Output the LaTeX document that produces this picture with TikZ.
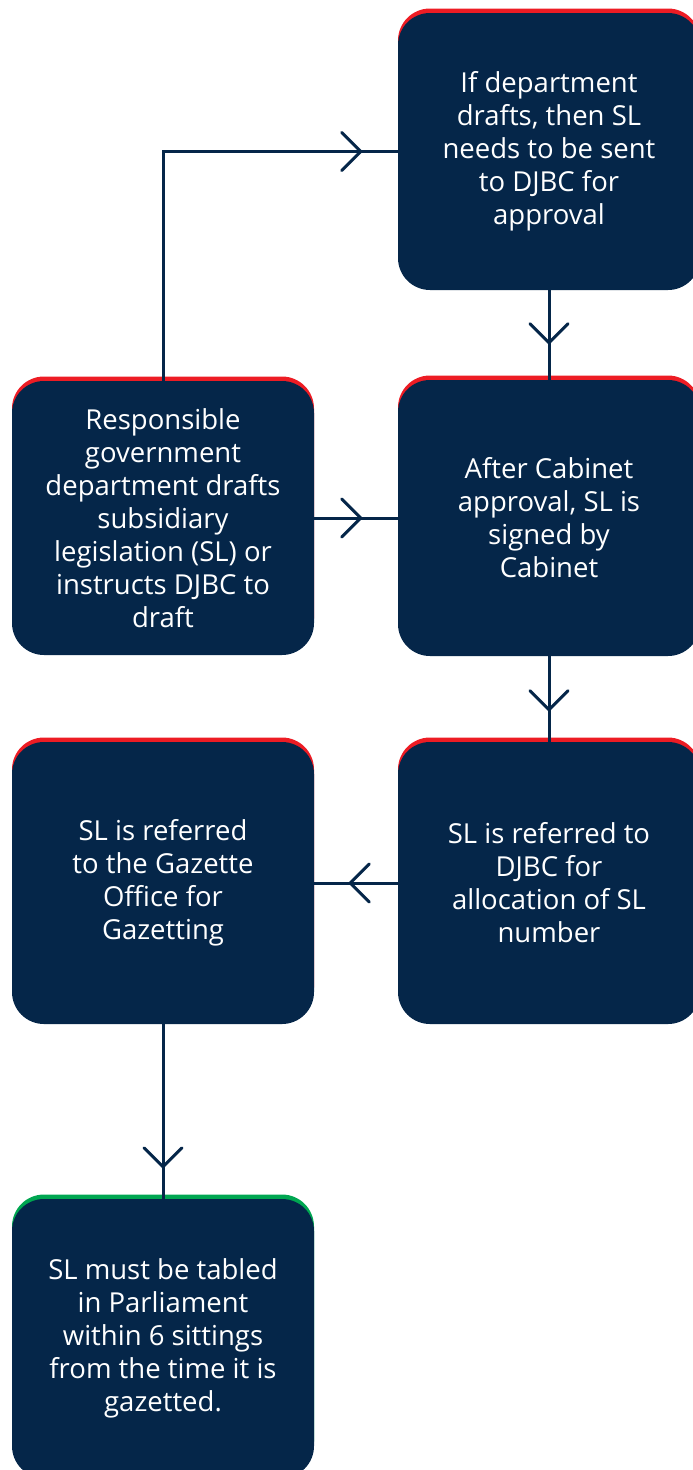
\documentclass[tikz,border=0pt]{standalone}
\usepackage{fontspec}
\setmainfont{Open Sans}
\usetikzlibrary{shadows,decorations.markings}
\definecolor{navy}{RGB}{5,38,73}
\definecolor{topred}{RGB}{237,28,36}
\definecolor{topgreen}{RGB}{0,166,81}
\tikzset{
  box/.style={rounded corners=32pt, fill=navy, text=white, align=center,
    minimum width=302pt, inner sep=0pt,
    font=\fontsize{27.5}{33}\selectfont,
    general shadow={fill=#1, shadow xshift=0pt, shadow yshift=4.5pt}},
  box/.default=topred,
  conn/.style={draw=navy, line width=3pt},
  arrowmid/.style={postaction={decorate, decoration={markings,
    mark=at position #1 with {\draw[navy, line width=3pt, line cap=round, line join=miter]
      (-19pt,19pt) -- (0pt,0pt) -- (-19pt,-19pt);}}}}
}
\begin{document}
\begin{tikzpicture}[x=1pt, y=-1pt]
\useasboundingbox (0,0) rectangle (693,1470);
\node[box, minimum height=277pt] (A) at (549,151.5) {\raisebox{5pt}{\begin{tabular}{@{}c@{}}If department\\drafts, then SL\\needs to be sent\\to DJBC for\\approval\end{tabular}}};
\node[box, minimum height=274pt] (B) at (163,518) {Responsible\\government\\department drafts\\subsidiary\\legislation (SL) or\\instructs DJBC to\\draft};
\node[box, minimum height=276pt] (C) at (549,518) {After Cabinet\\approval, SL is\\signed by\\Cabinet};
\node[box, minimum height=282pt] (D) at (549,883) {SL is referred to\\DJBC for\\allocation of SL\\number};
\node[box, minimum height=282pt] (E) at (163,883) {SL is referred\\to the Gazette\\Office for\\Gazetting};
\node[box=topgreen, minimum height=279pt] (F) at (163,1338.5) {SL must be tabled\\in Parliament\\within 6 sittings\\from the time it is\\gazetted.};
\draw[conn, arrowmid=-37pt] (B.north) |- (A.west);
\draw[conn, arrowmid=-37pt] (B.east) -- (C.west);
\draw[conn, arrowmid=-37pt] (A.south) -- (C.north);
\draw[conn, arrowmid=-32pt] (C.south) -- (D.north);
\draw[conn, arrowmid=-36pt] (D.west) -- (E.east);
\draw[conn, arrowmid=-32pt] (E.south) -- (F.north);
\end{tikzpicture}
\end{document}
